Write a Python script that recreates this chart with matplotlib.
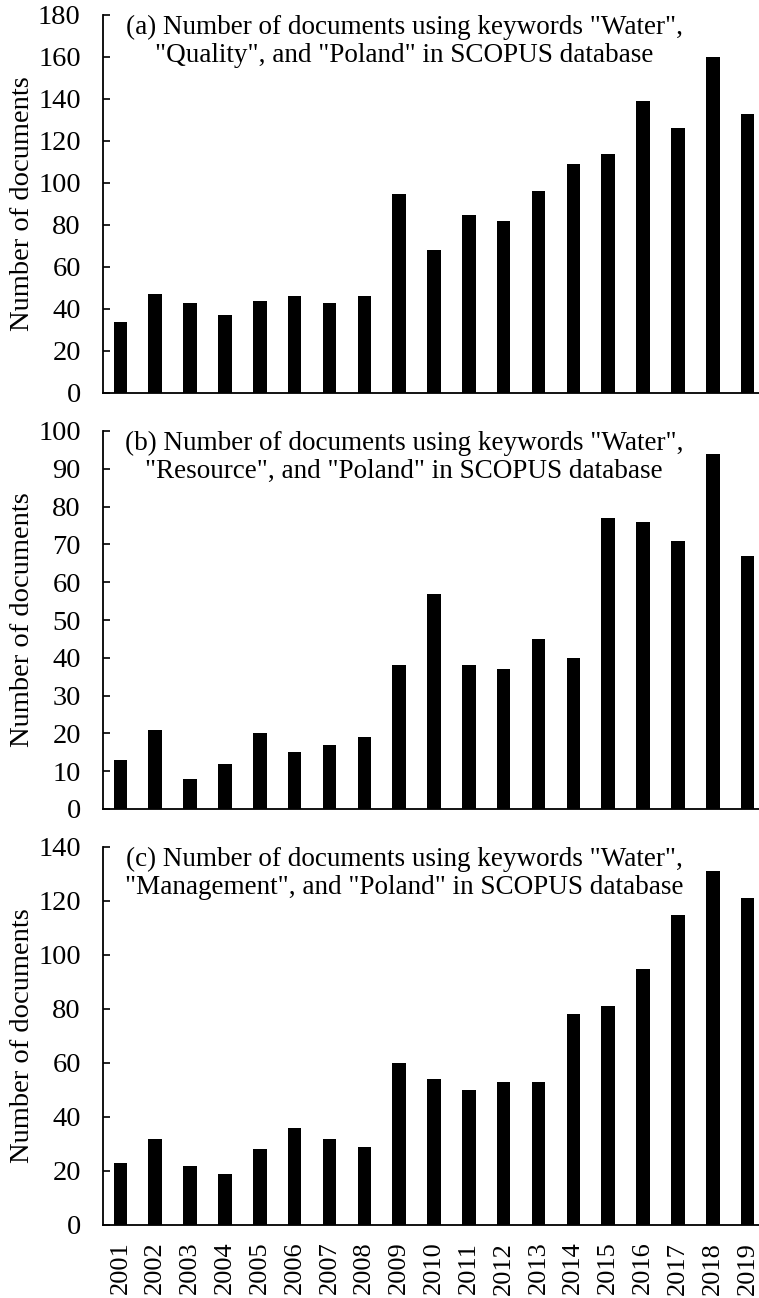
import matplotlib
matplotlib.use("Agg")
import matplotlib.pyplot as plt
import numpy as np

years = [str(y) for y in range(2001, 2020)]
quality = [34, 47, 43, 37, 44, 46, 43, 46, 95, 68, 85, 82, 96, 109, 114, 139, 126, 160, 133]
resource = [13, 21, 8, 12, 20, 15, 17, 19, 38, 57, 38, 37, 45, 40, 77, 76, 71, 94, 67]
management = [23, 32, 22, 19, 28, 36, 32, 29, 60, 54, 50, 53, 53, 78, 81, 95, 115, 131, 121]

titles = [
    '(a) Number of documents using keywords "Water",\n"Quality", and "Poland" in SCOPUS database',
    '(b) Number of documents using keywords "Water",\n"Resource", and "Poland" in SCOPUS database',
    '(c) Number of documents using keywords "Water",\n"Management", and "Poland" in SCOPUS database',
]
ylims = [180, 100, 140]
ysteps = [20, 10, 20]
series = [quality, resource, management]

plt.rcParams['font.family'] = ['Liberation Serif', 'DejaVu Serif']
plt.rcParams['font.size'] = 20

W, H = 759, 1298
fig = plt.figure(figsize=(W / 100, H / 100), dpi=100)

tops = [15, 431, 847]
bottoms = [393, 809, 1225]
left_px, right_px = 103, 765

x = np.arange(len(years))
for i in range(3):
    ax = fig.add_axes([left_px / W, 1 - bottoms[i] / H, (right_px - left_px) / W,
                       (bottoms[i] - tops[i]) / H])
    ax.bar(x, series[i], width=0.39, color='black')
    ax.set_xlim(-0.5, len(years) - 0.5)
    ax.set_ylim(0, ylims[i])
    ax.set_yticks(np.arange(0, ylims[i] + 1, ysteps[i]))
    for s in ['top', 'right']:
        ax.spines[s].set_visible(False)
    for s in ['left', 'bottom']:
        ax.spines[s].set_linewidth(1.3)
    ax.tick_params(axis='y', direction='in', length=5, width=1.2, pad=16, labelsize=20.5)
    ax.set_ylabel('Number of documents', fontsize=20.5)
    ax.yaxis.set_label_coords(-0.103, 0.5)
    if i == 2:
        ax.set_xticks(x)
        ax.set_xticklabels(years, rotation=90, fontsize=19)
        ax.tick_params(axis='x', length=0, pad=12)
    else:
        ax.set_xticks([])
    ax.text(0.4547, 0.93, titles[i], transform=ax.transAxes, ha='center', va='center',
            multialignment='center', fontsize=19.5, linespacing=1.15)

fig.savefig('out.png', dpi=100)
